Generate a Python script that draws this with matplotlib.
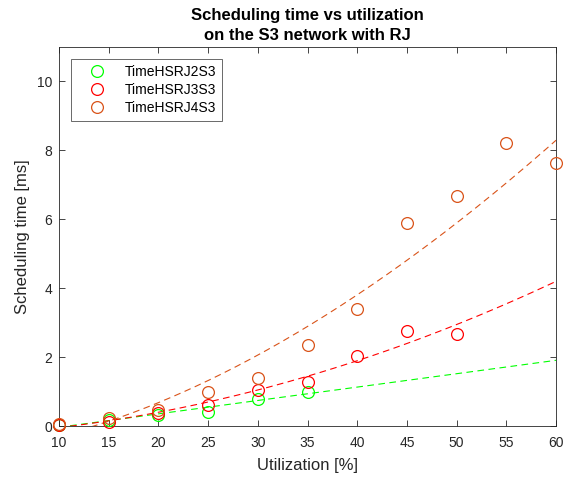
import matplotlib
matplotlib.use("Agg")
import matplotlib.pyplot as plt
import numpy as np

plt.rcParams['font.family'] = ['Liberation Sans', 'DejaVu Sans']

# utilization [%]
util_2 = [10, 15, 20, 25, 30, 35]
util_3 = [10, 15, 20, 25, 30, 35, 40, 45, 50]
util_4 = [10, 15, 20, 25, 30, 35, 40, 45, 50, 55, 60]

# scheduling time [ms]
time_2 = [0.02, 0.17, 0.32, 0.41, 0.79, 0.99]
time_3 = [0.03, 0.12, 0.39, 0.60, 1.05, 1.27, 2.04, 2.77, 2.66]
time_4 = [0.05, 0.24, 0.47, 0.99, 1.38, 2.34, 3.41, 5.88, 6.69, 8.21, 7.63]

labels = ['TimeHSRJ2S3', 'TimeHSRJ3S3', 'TimeHSRJ4S3']
colors = ['#00FF00', '#FF0000', '#D95319']

# trend lines: polyfit for 2S3 / 3S3, power fit a*x^b + c for 4S3
# (coefficients)
fit_deg = [1, 2]
power_fit_4 = [0.008545, 1.7, -0.713]

fig = plt.figure(figsize=(5.69, 4.79), dpi=100)
ax = fig.add_axes([0.1037, 0.1106, 0.8735, 0.7912])

xfit = np.linspace(10, 60, 200)
series = [(util_2, time_2), (util_3, time_3), (util_4, time_4)]
for i, ((x, y), lab, c) in enumerate(zip(series, labels, colors)):
    ax.plot(x, y, 'o', mfc='none', mec=c, ms=8.5, mew=0.9, label=lab,
            clip_on=False, zorder=3)
    if i < len(fit_deg):
        yfit = np.polyval(np.polyfit(x, y, fit_deg[i]), xfit)
    else:
        a, b, k = power_fit_4
        yfit = a * xfit ** b + k
    ax.plot(xfit, yfit, '--', color=c, lw=0.8, dashes=(6, 4))

ax.set_xlim(10, 60)
ax.set_ylim(0, 11)
ax.set_xticks(np.arange(10, 61, 5))
ax.set_yticks(np.arange(0, 11, 2))
ax.tick_params(direction='in', top=True, right=True, labelsize=10,
               length=4, width=0.6, colors='#262626', pad=5)
ax.tick_params(axis='x', pad=7)
for s in ax.spines.values():
    s.set_linewidth(0.6)
    s.set_color('#262626')

ax.set_xlabel('Utilization [%]', fontsize=12, color='#262626', labelpad=6)
ax.set_ylabel('Scheduling time [ms]', fontsize=12, color='#262626',
              labelpad=5)
ax.set_title('Scheduling time vs utilization\non the S3 network with RJ',
             fontsize=12, fontweight='bold', linespacing=1.45, pad=5)

leg = ax.legend(loc='upper left', bbox_to_anchor=(0.024, 0.968),
                borderaxespad=0, fontsize=10, frameon=True, fancybox=False,
                edgecolor='#262626', handlelength=3, handletextpad=0.5,
                borderpad=0.4, labelspacing=0.3)
leg.get_frame().set_linewidth(0.6)

fig.savefig('out.png', dpi=100)
